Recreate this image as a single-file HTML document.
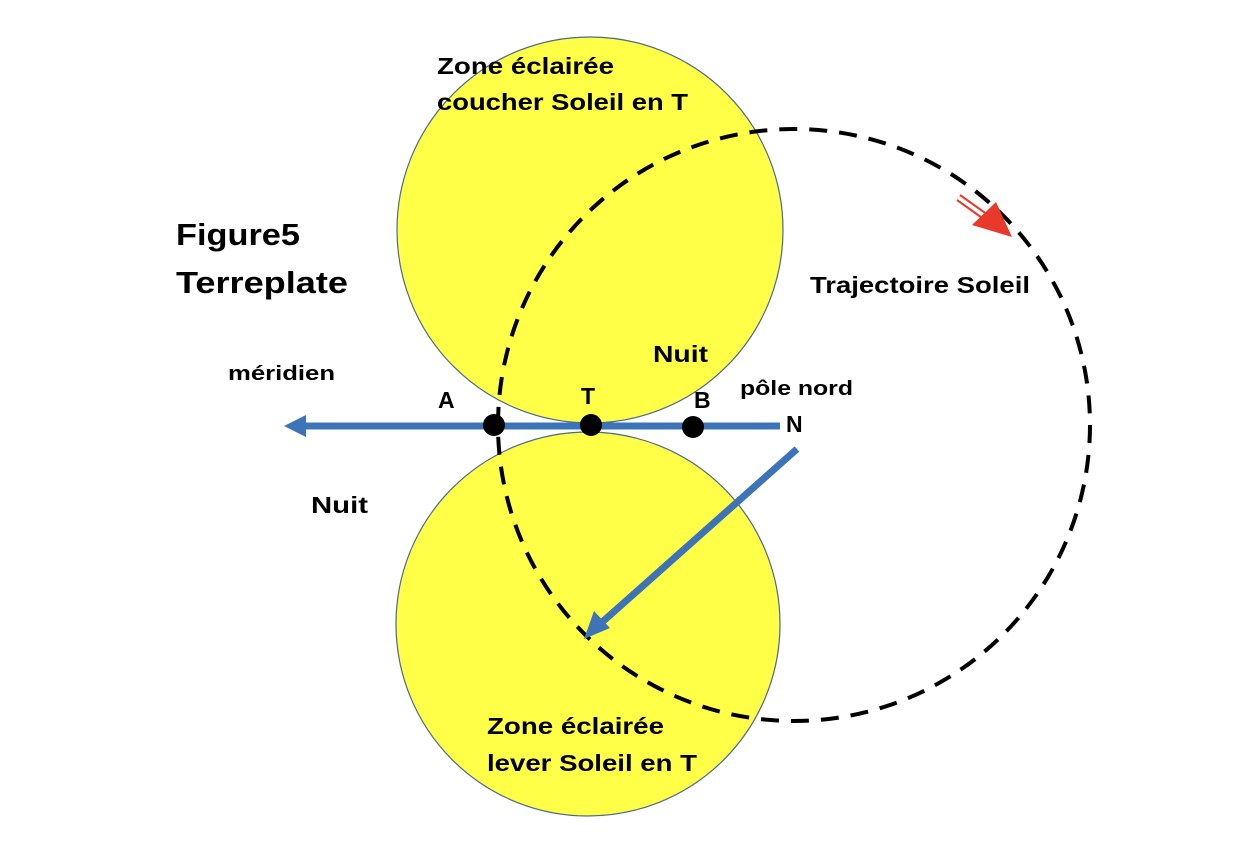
<!DOCTYPE html>
<html><head><meta charset="utf-8"><style>
html,body{margin:0;padding:0;background:#fff}
svg{display:block}
text{font-family:"Liberation Sans",sans-serif;font-weight:bold;fill:#000}
</style></head><body>
<svg width="1248" height="864" viewBox="0 0 1248 864" xmlns="http://www.w3.org/2000/svg">
<circle cx="590" cy="230" r="193" fill="#ffff47" stroke="#4a6a8a" stroke-width="1.2"/>
<circle cx="588" cy="624" r="192" fill="#ffff47" stroke="#4a6a8a" stroke-width="1.2"/>
<circle cx="794" cy="425" r="296" fill="none" stroke="#000" stroke-width="4" stroke-dasharray="18 12"/>
<line x1="300" y1="426" x2="780" y2="426" stroke="#3d74b8" stroke-width="7"/>
<polygon points="284,426 306,415 306,437" fill="#3d74b8"/>
<line x1="797" y1="449" x2="600" y2="624" stroke="#3d74b8" stroke-width="7"/>
<polygon points="584,639 594,611 610,628" fill="#3d74b8"/>
<circle cx="494" cy="425" r="11" fill="#000"/>
<circle cx="591" cy="425" r="11" fill="#000"/>
<circle cx="693" cy="427" r="11" fill="#000"/>
<line x1="960" y1="195" x2="995" y2="220" stroke="#e83a2a" stroke-width="2"/>
<line x1="957" y1="200" x2="992" y2="225" stroke="#e83a2a" stroke-width="2"/>
<polygon points="1012,237 996,202 972,225" fill="#e83a2a"/>
<g lengthAdjust="spacingAndGlyphs">
<text x="437" y="74" font-size="23" textLength="177" lengthAdjust="spacingAndGlyphs">Zone éclairée</text>
<text x="437" y="110" font-size="23" textLength="251" lengthAdjust="spacingAndGlyphs">coucher Soleil en T</text>
<text x="176" y="245" font-size="31" textLength="124" lengthAdjust="spacingAndGlyphs">Figure5</text>
<text x="176" y="293" font-size="31" textLength="172" lengthAdjust="spacingAndGlyphs">Terreplate</text>
<text x="810" y="293" font-size="23" textLength="220" lengthAdjust="spacingAndGlyphs">Trajectoire Soleil</text>
<text x="653" y="362" font-size="23" textLength="55" lengthAdjust="spacingAndGlyphs">Nuit</text>
<text x="228" y="380" font-size="20" textLength="107" lengthAdjust="spacingAndGlyphs">méridien</text>
<text x="740" y="395" font-size="20" textLength="113" lengthAdjust="spacingAndGlyphs">pôle nord</text>
<text x="438" y="408" font-size="23">A</text>
<text x="581" y="404" font-size="23">T</text>
<text x="694" y="408" font-size="23">B</text>
<text x="786" y="432" font-size="23">N</text>
<text x="311" y="513" font-size="23" textLength="57" lengthAdjust="spacingAndGlyphs">Nuit</text>
<text x="487" y="734" font-size="23" textLength="177" lengthAdjust="spacingAndGlyphs">Zone éclairée</text>
<text x="487" y="771" font-size="23" textLength="210" lengthAdjust="spacingAndGlyphs">lever Soleil en T</text>
</g>
</svg>
</body></html>
